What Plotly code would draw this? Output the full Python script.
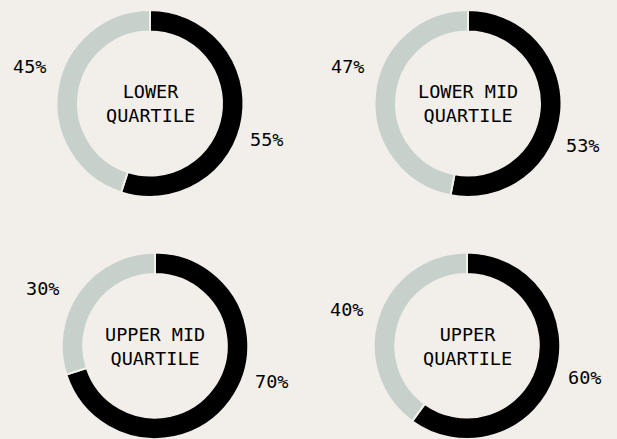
import math
import plotly.graph_objects as go

# ---- data ----
quartiles = ["LOWER<br>QUARTILE", "LOWER MID<br>QUARTILE", "UPPER MID<br>QUARTILE", "UPPER<br>QUARTILE"]
black_share = [55, 53, 70, 60]
grey_share = [45, 47, 30, 40]

# ---- style / layout ----
W, H = 617, 439
BG = "#f2eee9"
BLACK = "#000000"
GREY = "#c6d1cb"
FONT = "DejaVu Sans Mono"
TEXT_SIZE = 18.5
# donut centers (px from top-left) and radius
centers = [(150, 103.5), (468, 103.5), (155, 346), (467, 346)]
RADIUS = 93.5
HOLE = 0.77
LABEL_R_BLACK = 122
LABEL_R_GREY = 126
# label directions, degrees clockwise from 12 o'clock
ang_black = [107, 110, 107, 105]
ang_grey = [287, 287, 297, 287]

fig = go.Figure()
annotations = []
for i, (name, b, g) in enumerate(zip(quartiles, black_share, grey_share)):
    cx, cy = centers[i]
    x0, x1 = (cx - RADIUS) / W, (cx + RADIUS) / W
    y0, y1 = (H - cy - RADIUS) / H, (H - cy + RADIUS) / H
    y0 = max(y0, 0)
    y1 = min(y1, 1)
    fig.add_trace(go.Pie(
        values=[b, g],
        labels=["Black", "Grey"],
        marker=dict(colors=[BLACK, GREY], line=dict(color=BG, width=2)),
        hole=HOLE,
        sort=False,
        direction="clockwise",
        rotation=0,
        textinfo="none",
        hoverinfo="skip",
        showlegend=False,
        domain=dict(x=[x0, x1], y=[y0, y1]),
    ))
    # center text
    annotations.append(dict(
        x=cx / W, y=1 - cy / H, xref="paper", yref="paper",
        text=name, showarrow=False, xanchor="center", yanchor="middle",
        font=dict(family=FONT, size=TEXT_SIZE, color="#000000"),
    ))
    # percent labels
    for val, ang, rr in ((b, ang_black[i], LABEL_R_BLACK), (g, ang_grey[i], LABEL_R_GREY)):
        a = math.radians(ang)
        lx = cx + rr * math.sin(a)
        ly = cy - rr * math.cos(a)
        annotations.append(dict(
            x=lx / W, y=1 - ly / H, xref="paper", yref="paper",
            text=f"{val}%", showarrow=False, xanchor="center", yanchor="middle",
            font=dict(family=FONT, size=TEXT_SIZE, color="#000000"),
        ))

fig.update_layout(
    width=W, height=H,
    margin=dict(l=0, r=0, t=0, b=0),
    paper_bgcolor=BG, plot_bgcolor=BG,
    annotations=annotations,
)
fig.write_html("out.html", config={"displayModeBar": False},
               post_script="document.body.style.margin='0';")
